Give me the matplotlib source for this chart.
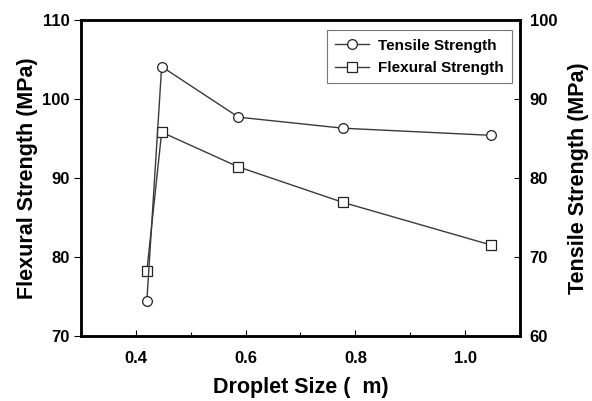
import matplotlib
matplotlib.use("Agg")
import matplotlib.pyplot as plt
from matplotlib.ticker import MultipleLocator

plt.rcParams['font.family'] = ['Liberation Sans', 'DejaVu Sans']
plt.rcParams['font.weight'] = 'bold'

droplet_size = [0.42, 0.447, 0.587, 0.778, 1.048]
tensile = [64.4, 94.1, 87.7, 86.3, 85.4]
flexural = [78.2, 95.8, 91.4, 86.9, 81.5]

fig = plt.figure(figsize=(5.92, 4.01), dpi=100)
ax = fig.add_axes([0.1368, 0.1621, 0.7416, 0.7880])
ax2 = ax.twinx()

line_col = '#3a3a3a'
l2, = ax.plot(droplet_size, flexural, color=line_col, lw=1.0, marker='s', ms=6.5,
              mfc='white', mec='#222222', mew=0.9, label='Flexural Strength')
l1, = ax2.plot(droplet_size, tensile, color=line_col, lw=1.0, marker='o', ms=7,
               mfc='white', mec='#222222', mew=0.9, label='Tensile Strength')

ax.set_xlim(0.3, 1.1)
ax.set_ylim(70, 110)
ax2.set_ylim(60, 100)
ax.xaxis.set_minor_locator(MultipleLocator(0.1))
ax.set_xticks([0.4, 0.6, 0.8, 1.0])
ax.set_xticklabels(['0.4', '0.6', '0.8', '1.0'])
ax.set_yticks([70, 80, 90, 100, 110])
ax2.set_yticks([60, 70, 80, 90, 100])

for a in (ax, ax2):
    for s in a.spines.values():
        s.set_linewidth(1.8)

ax.tick_params(axis='x', which='major', direction='in', length=4, width=0.8, labelsize=12, pad=11)
ax.tick_params(axis='x', which='minor', direction='in', length=3, width=0.8)
ax.tick_params(axis='y', direction='out', length=5, width=0.8, labelsize=12, pad=3)
ax2.tick_params(axis='y', direction='in', length=4, width=0.8, labelsize=12, pad=7)

ax.set_xlabel('Droplet Size (  m)', fontsize=15.5, fontweight='bold', labelpad=8)
ax.set_ylabel('Flexural Strength (MPa)', fontsize=15.5, fontweight='bold', labelpad=3)
ax2.set_ylabel('Tensile Strength (MPa)', fontsize=15.5, fontweight='bold', labelpad=8)

leg = ax.legend(handles=[l1, l2], loc='upper right', bbox_to_anchor=(0.982, 0.968),
                borderaxespad=0.0,
                fontsize=11, frameon=True, fancybox=False, handlelength=2.2,
                borderpad=0.55, labelspacing=0.55, handletextpad=0.6)
leg.get_frame().set_edgecolor('#555555')
leg.get_frame().set_linewidth(0.8)

fig.savefig('out.png', dpi=100)
